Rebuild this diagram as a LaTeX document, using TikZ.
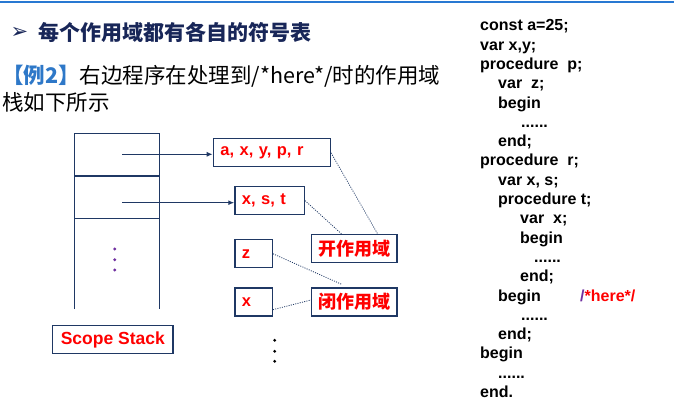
\documentclass[tikz,border=0pt]{standalone}
\usepackage{fontspec}
\setmainfont{Liberation Sans}
\newfontfamily\cjk{Noto Sans CJK SC}
\newfontfamily\dingfont{DejaVu Sans}
\usetikzlibrary{arrows.meta,positioning}
\definecolor{navy}{RGB}{31,56,100}
\definecolor{titlenavy}{RGB}{24,38,88}
\definecolor{exblue}{RGB}{46,120,200}
\definecolor{rulerblue}{RGB}{40,120,210}
\definecolor{dotpurple}{RGB}{112,48,160}
\tikzset{
  symtab/.style={draw=navy,line width=1.3pt,anchor=west,minimum height=28pt,
    inner xsep=7pt,inner ysep=0pt,text width=#1,align=left,text=red,
    font=\fontsize{16.5}{18}\selectfont\bfseries},
  scopelbl/.style={draw=navy,line width=1.3pt,minimum height=28pt,inner sep=0pt,
    text=red,font=\cjk\fontsize{18}{20}\selectfont\bfseries},
  ptr/.style={-{Latex[length=6pt,width=5pt]},navy,line width=1.3pt},
  link/.style={navy,line width=0.8pt,dash pattern=on 1pt off 1.3pt},
  stackline/.style={navy,line width=1.3pt},
  code/.style={inner sep=0pt,align=left,
    font=\fontsize{16}{19.3}\selectfont\bfseries},
}

\begin{document}
\begin{tikzpicture}[x=1pt,y=-1pt]
  \useasboundingbox (0,0) rectangle (692,416);
  % top rule
  \draw[rulerblue,line width=2pt] (0,2) -- (674,2);

  % heading and question
  \node[text=titlenavy,font=\dingfont\fontsize{21}{21}\selectfont,inner sep=0pt]
    (bullet) at (19.5,32.5) {➢};
  \node[anchor=west,inner sep=0pt,text=titlenavy,
    font=\cjk\fontsize{21}{21}\selectfont\bfseries] (title) at (38,32.5)
    {每个作用域都有各自的符号表};
  \node[anchor=west,inner sep=0pt,font=\cjk\fontsize{21.5}{21.5}\selectfont]
    (ask1) at (2,76) {{\color{exblue}\bfseries 【例2】}右边程序在处理到/*here*/时的作用域};
  \node[anchor=west,inner sep=0pt,font=\cjk\fontsize{21.5}{21.5}\selectfont]
    (ask2) at (2,102) {栈如下所示};

  % scope stack
  \draw[stackline] (74.3,309) -- (74.3,133.3) -- (159.3,133.3) -- (159.3,309);
  \draw[stackline] (74.3,176) -- (159.3,176);
  \draw[stackline] (74.3,218.7) -- (159.3,218.7);
  \fill[dotpurple] (114.7,249) circle (1.6) (114.7,259.7) circle (1.6)
    (114.7,270) circle (1.6);
  \coordinate (cell1) at (122.3,154.3);
  \coordinate (cell2) at (122.3,202.7);
  \node[draw=navy,line width=1.3pt,minimum width=120.3pt,minimum height=28.4pt,
    inner sep=0pt,text=red,font=\fontsize{17.5}{18}\selectfont\bfseries]
    (stack) at (112.8,339.5) {Scope Stack};

  % symbol tables
  \node[symtab=103pt] (tab1) at (212.7,152.8) {a, x, y, p, r};
  \node[symtab=55.4pt] (tab2) at (234.3,200.6) {x, s, t};
  \node[symtab=23.4pt] (tabz) at (234.3,253.8) {z};
  \node[symtab=23.4pt] (tabx) at (234.3,302) {x};
  \fill (274.7,340.3) circle (1.6) (274.7,351.3) circle (1.6)
    (274.7,361.3) circle (1.6);

  \node[scopelbl,minimum width=85.3pt] (open) at (354.3,248.7) {开作用域};
  \node[scopelbl,minimum width=85.3pt] (closed) at (354.3,302) {闭作用域};

  \draw[ptr] (cell1) -- (cell1 -| tab1.west);
  \draw[ptr] (cell2) -- (cell2 -| tab2.west);
  \draw[link] (tab1.east) -- ([xshift=23.4pt]open.north);
  \draw[link] (tab2.east) -- ([xshift=-12.6pt]open.north);
  \draw[link] (tabz.east) -- ([xshift=-12.6pt,yshift=3pt]closed.north);
  \draw[link] (tabx.south east) ++(0,-7) -- ([yshift=2pt]closed.west);

  % program text
  \node[code,anchor=north west] (prog) at (480,19.5) {%
    const a=25;\\
    var x,y;\\
    procedure\ \ p;\\
    \hspace*{18pt}var\ \ z;\\
    \hspace*{18pt}begin\\
    \hspace*{41pt}......\\
    \hspace*{18pt}end;\\
    procedure\ \ r;\\
    \hspace*{18pt}var x, s;\\
    \hspace*{18pt}procedure t;\\
    \hspace*{40pt}var\ \ x;\\
    \hspace*{40pt}begin\\
    \hspace*{54pt}......\\
    \hspace*{40pt}end;\\
    \hspace*{18pt}\makebox[82pt][l]{begin}{\color{dotpurple}/}{\color{red}*here*/}\\
    \hspace*{41pt}......\\
    \hspace*{18pt}end;\\
    begin\\
    \hspace*{18pt}......\\
    end.};
\end{tikzpicture}
\end{document}
